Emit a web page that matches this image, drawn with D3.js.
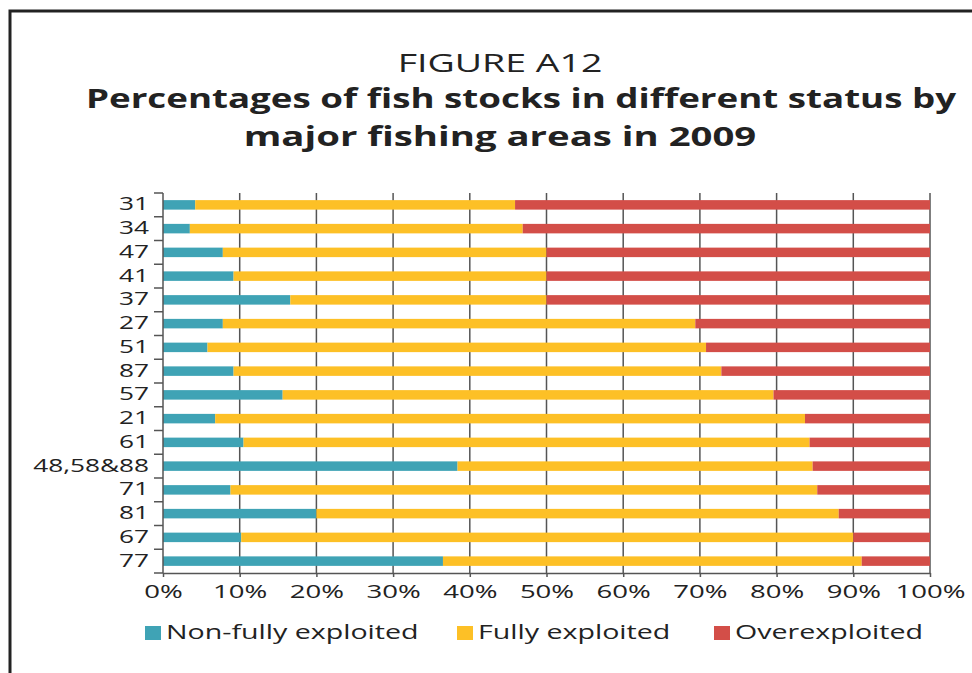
<!DOCTYPE html>
<html>
<head>
<meta charset="utf-8">
<script src="https://cdn.jsdelivr.net/npm/d3@7"></script>
<style>
  body { margin: 0; background: #fff; }
  svg { display: block; font-family: "Open Sans", sans-serif; }
</style>
</head>
<body>
<div id="viz"></div>
<script>
// fishing areas, top to bottom
var areas = ["31", "34", "47", "41", "37", "27", "51", "87", "57", "21", "61", "48,58&88", "71", "81", "67", "77"];
// percent of stocks per status
var nonFully = [4.2, 3.5, 7.8, 9.2, 16.6, 7.8, 5.8, 9.2, 15.6, 6.8, 10.5, 38.4, 8.8, 20.0, 10.2, 36.5];
var fully    = [41.7, 43.4, 42.2, 40.8, 33.4, 61.6, 65.0, 63.6, 64.0, 76.9, 73.8, 46.3, 76.5, 68.1, 79.8, 54.6];
var over     = [54.1, 53.1, 50.0, 50.0, 50.0, 30.6, 29.2, 27.2, 20.4, 16.3, 15.7, 15.3, 14.7, 11.9, 10.0, 8.9];
var statusNames = ["Non-fully exploited", "Fully exploited", "Overexploited"];
var xTicks = [0, 10, 20, 30, 40, 50, 60, 70, 80, 90, 100];

var colors = ["#3fa3b5", "#fdc026", "#d34e48"];
var W = 972, H = 673;
var stretch = 1.43; // the scanned figure is wider than it is tall, so text gets stretched too

var svg = d3.select("#viz").append("svg")
    .attr("width", W)
    .attr("height", H);

// put a text at (x, y) and stretch it horizontally around its anchor
function addText(x0, y0, str, size, anchor, sx, weight) {
    return svg.append("text")
        .attr("transform", "translate(" + x0 + "," + y0 + ") scale(" + sx + ",1)")
        .attr("text-anchor", anchor)
        .attr("font-size", size)
        .attr("font-weight", weight || "normal")
        .attr("fill", "#222")
        .text(str);
}

// frame (cut off at right and bottom in the original scan)
svg.append("path")
    .attr("d", "M10,673 V11 H972")
    .attr("fill", "none")
    .attr("stroke", "#222")
    .attr("stroke-width", 3);

// titles
addText(500, 72, "FIGURE A12", 25, "middle", 1.5);
addText(521, 108, "Percentages of fish stocks in different status by", 27, "middle", 1.36, "bold");
addText(500, 146, "major fishing areas in 2009", 27, "middle", 1.42, "bold");

var plotLeft = 163, plotRight = 930, plotTop = 193, plotBottom = 573;

var x = d3.scaleLinear().domain([0, 100]).range([plotLeft, plotRight]);
var y = d3.scaleBand().domain(areas).range([plotTop, plotBottom])
    .paddingInner(0.6).paddingOuter(0.3);

// vertical gridlines
svg.append("g").selectAll("line")
    .data(xTicks.slice(1))
    .enter().append("line")
    .attr("x1", function(d) { return x(d); })
    .attr("x2", function(d) { return x(d); })
    .attr("y1", plotTop).attr("y2", plotBottom)
    .attr("stroke", "#555")
    .attr("stroke-width", 1.5);

// stacked bars
var rows = areas.map(function(a, i) { return [nonFully[i], fully[i], over[i]]; });
var bars = svg.append("g");
rows.forEach(function(r, i) {
    var start = 0;
    r.forEach(function(v, k) {
        bars.append("rect")
            .attr("x", x(start))
            .attr("y", y(areas[i]))
            .attr("width", x(start + v) - x(start))
            .attr("height", y.bandwidth())
            .attr("fill", colors[k]);
        start += v;
    });
});

// left axis: line with ticks between categories
var step = y.step();
var yAxis = svg.append("g");
yAxis.append("line")
    .attr("x1", plotLeft).attr("x2", plotLeft)
    .attr("y1", plotTop).attr("y2", plotBottom)
    .attr("stroke", "#555").attr("stroke-width", 1.5);
yAxis.selectAll(".sep")
    .data(d3.range(areas.length + 1))
    .enter().append("line")
    .attr("x1", plotLeft - 9).attr("x2", plotLeft)
    .attr("y1", function(d) { return plotTop + d * step; })
    .attr("y2", function(d) { return plotTop + d * step; })
    .attr("stroke", "#555").attr("stroke-width", 1.5);
areas.forEach(function(a) {
    addText(149, y(a) + y.bandwidth() / 2 + 5.5, a, 19, "end", 1.38);
});

// bottom axis
var xAxis = svg.append("g")
    .attr("transform", "translate(0," + plotBottom + ")")
    .call(d3.axisBottom(x).tickValues(xTicks).tickSize(4).tickSizeOuter(0)
        .tickFormat(function(d) { return d + "%"; }));
xAxis.select(".domain").attr("stroke", "#555").attr("stroke-width", 1.5);
xAxis.selectAll(".tick line").attr("stroke", "#555").attr("stroke-width", 1.5);
xAxis.selectAll(".tick text")
    .attr("y", 12)
    .attr("transform", "scale(1.45,1)")
    .attr("font-size", 19)
    .attr("font-family", "Open Sans, sans-serif")
    .attr("fill", "#222");

// legend
var legendX = [145, 457, 714];
statusNames.forEach(function(name, k) {
    svg.append("rect")
        .attr("x", legendX[k]).attr("y", 626)
        .attr("width", 16).attr("height", 14)
        .attr("fill", colors[k]);
    addText(legendX[k] + 21, 639, name, 20, "start", stretch);
});
</script>
</body>
</html>
